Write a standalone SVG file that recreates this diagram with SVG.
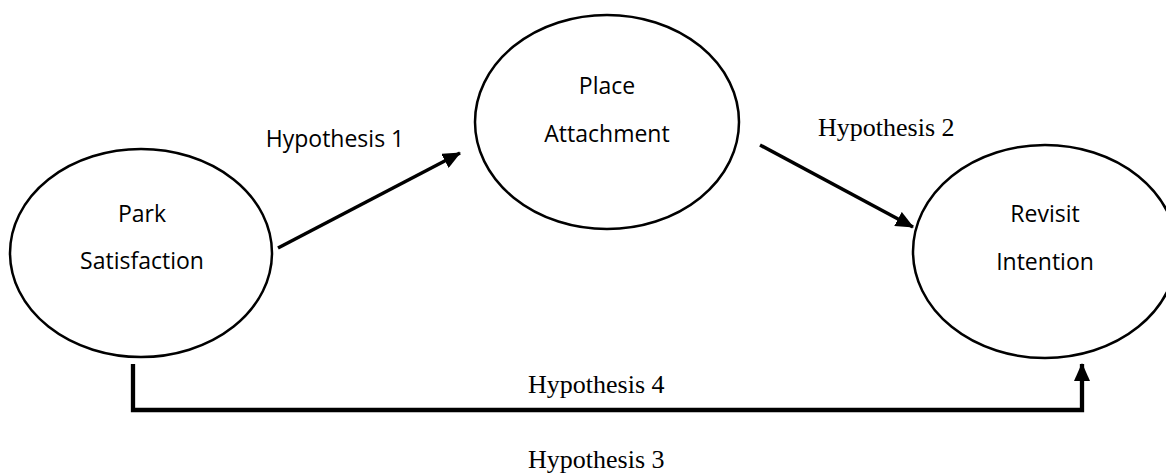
<svg xmlns="http://www.w3.org/2000/svg" width="1166" height="474" viewBox="0 0 1166 474">
<style>
.node ellipse{fill:#fff;stroke:#000;stroke-width:2.5}
.lbl{font-family:"Open Sans","Liberation Sans",sans-serif;font-size:23px;fill:#000;text-anchor:middle}
.hyp{font-family:"Liberation Serif","Times New Roman",serif;font-size:26px;fill:#000}
.con{fill:none;stroke:#000}
</style>
<defs>
<marker id="ah" markerUnits="userSpaceOnUse" markerWidth="18" markerHeight="16" viewBox="0 0 18 16" refX="17" refY="8" orient="auto">
<path d="M0,0 L18,8 L0,16 Z" fill="#000"/>
</marker>
</defs>
<rect width="1166" height="474" fill="#fff"/>
<g id="park-satisfaction" class="node">
<ellipse cx="141" cy="253" rx="131" ry="104"/>
<text class="lbl" x="142" y="222">Park</text>
<text class="lbl" x="142" y="269">Satisfaction</text>
</g>
<g id="place-attachment" class="node">
<ellipse cx="607" cy="122" rx="132" ry="107"/>
<text class="lbl" x="607" y="94">Place</text>
<text class="lbl" x="607" y="142">Attachment</text>
</g>
<g id="revisit-intention" class="node">
<ellipse cx="1045" cy="251.5" rx="132" ry="106.5"/>
<text class="lbl" x="1045" y="222">Revisit</text>
<text class="lbl" x="1045" y="270">Intention</text>
</g>
<g id="connectors">
<line class="con" x1="278" y1="248" x2="460" y2="153" stroke-width="3.5" marker-end="url(#ah)"/>
<line class="con" x1="760" y1="145" x2="913" y2="227" stroke-width="3.5" marker-end="url(#ah)"/>
<path class="con" d="M133,364 V410 H1082 V364" stroke-width="4.3" marker-end="url(#ah)"/>
</g>
<g id="labels">
<text class="lbl" x="335" y="147">Hypothesis 1</text>
<text class="hyp" x="818" y="136">Hypothesis 2</text>
<text class="hyp" x="528" y="393">Hypothesis 4</text>
<text class="hyp" x="528" y="468">Hypothesis 3</text>
</g>
</svg>
